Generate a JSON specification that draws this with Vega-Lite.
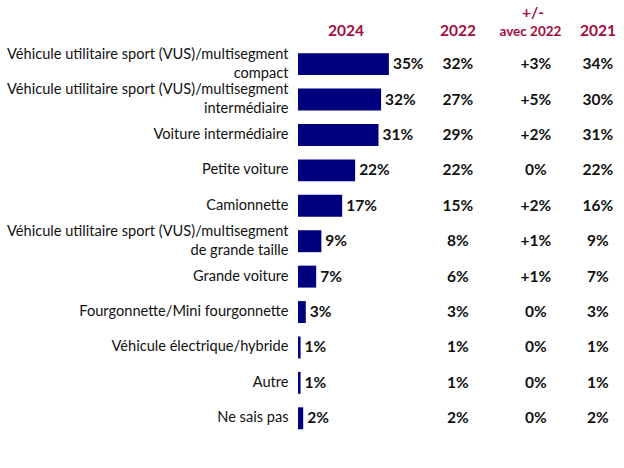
{
  "$schema": "https://vega.github.io/schema/vega-lite/v6.json",
  "width": 624,
  "height": 468,
  "autosize": {"type": "fit", "contains": "padding"},
  "padding": {"top": 7, "bottom": 32, "left": 5, "right": 4},
  "background": "white",
  "config": {"view": {"stroke": null}, "font": "Lato"},
  "data": {
    "values": [
      {"cat": "Véhicule utilitaire sport (VUS)/multisegment|compact", "v2024": 35, "v2022": 32, "diff": 3, "v2021": 34},
      {"cat": "Véhicule utilitaire sport (VUS)/multisegment|intermédiaire", "v2024": 32, "v2022": 27, "diff": 5, "v2021": 30},
      {"cat": "Voiture intermédiaire", "v2024": 31, "v2022": 29, "diff": 2, "v2021": 31},
      {"cat": "Petite voiture", "v2024": 22, "v2022": 22, "diff": 0, "v2021": 22},
      {"cat": "Camionnette", "v2024": 17, "v2022": 15, "diff": 2, "v2021": 16},
      {"cat": "Véhicule utilitaire sport (VUS)/multisegment|de grande taille", "v2024": 9, "v2022": 8, "diff": 1, "v2021": 9},
      {"cat": "Grande voiture", "v2024": 7, "v2022": 6, "diff": 1, "v2021": 7},
      {"cat": "Fourgonnette/Mini fourgonnette", "v2024": 3, "v2022": 3, "diff": 0, "v2021": 3},
      {"cat": "Véhicule électrique/hybride", "v2024": 1, "v2022": 1, "diff": 0, "v2021": 1},
      {"cat": "Autre", "v2024": 1, "v2022": 1, "diff": 0, "v2021": 1},
      {"cat": "Ne sais pas", "v2024": 2, "v2022": 2, "diff": 0, "v2021": 2}
    ]
  },
  "transform": [
    {"calculate": "datum.v2024 + '%'", "as": "l2024"},
    {"calculate": "datum.v2022 + '%'", "as": "l2022"},
    {"calculate": "datum.v2021 + '%'", "as": "l2021"},
    {"calculate": "(datum.diff > 0 ? '+' : '') + datum.diff + '%'", "as": "ldiff"}
  ],
  "encoding": {
    "y": {
      "field": "cat",
      "type": "nominal",
      "sort": null,
      "scale": {
        "domain": [
          "hdr",
          "Véhicule utilitaire sport (VUS)/multisegment|compact",
          "Véhicule utilitaire sport (VUS)/multisegment|intermédiaire",
          "Voiture intermédiaire",
          "Petite voiture",
          "Camionnette",
          "Véhicule utilitaire sport (VUS)/multisegment|de grande taille",
          "Grande voiture",
          "Fourgonnette/Mini fourgonnette",
          "Véhicule électrique/hybride",
          "Autre",
          "Ne sais pas"
        ],
        "paddingInner": 0.38,
        "paddingOuter": 0.19
      },
      "axis": {
        "title": null,
        "ticks": false,
        "domain": false,
        "labelPadding": 10,
        "labelFontSize": 14.6,
        "labelFont": "Lato",
        "labelColor": "#111111",
        "labelLimit": 400,
        "minExtent": 293,
        "maxExtent": 293,
        "labelLineHeight": 19,
        "labelOffset": {"condition": {"test": "indexof(datum.value, '|') >= 0", "value": -9.5}, "value": 0},
        "labelExpr": "datum.value == 'hdr' ? '' : split(datum.value, '|')"
      }
    }
  },
  "layer": [
    {
      "mark": {"type": "bar", "color": "#00007F"},
      "encoding": {
        "x": {"field": "v2024", "type": "quantitative", "scale": {"domain": [0, 124], "nice": false}, "axis": null}
      }
    },
    {
      "mark": {"type": "text", "align": "left", "baseline": "middle", "dx": 4, "fontWeight": "bold", "fontSize": 15.5, "color": "#111111"},
      "encoding": {
        "x": {"field": "v2024", "type": "quantitative"},
        "text": {"field": "l2024"}
      }
    },
    {
      "mark": {"type": "text", "align": "center", "baseline": "middle", "fontWeight": "bold", "fontSize": 15.5, "color": "#111111"},
      "encoding": {
        "x": {"datum": 61.6, "type": "quantitative"},
        "text": {"field": "l2022"}
      }
    },
    {
      "mark": {"type": "text", "align": "center", "baseline": "middle", "fontWeight": "bold", "fontSize": 15.5, "color": "#111111"},
      "encoding": {
        "x": {"datum": 91.6, "type": "quantitative"},
        "text": {"field": "ldiff"}
      }
    },
    {
      "mark": {"type": "text", "align": "center", "baseline": "middle", "fontWeight": "bold", "fontSize": 15.5, "color": "#111111"},
      "encoding": {
        "x": {"datum": 115.5, "type": "quantitative"},
        "text": {"field": "l2021"}
      }
    },
    {
      "data": {"values": [{"cat": "hdr", "t": "2024"}]},
      "mark": {"type": "text", "align": "center", "baseline": "middle", "dy": 2, "fontWeight": "bold", "fontSize": 15.5, "color": "#A50D3C"},
      "encoding": {"x": {"datum": 18.5, "type": "quantitative"}, "text": {"field": "t"}}
    },
    {
      "data": {"values": [{"cat": "hdr", "t": "2022"}]},
      "mark": {"type": "text", "align": "center", "baseline": "middle", "dy": 2, "fontWeight": "bold", "fontSize": 15.5, "color": "#A50D3C"},
      "encoding": {"x": {"datum": 61.6, "type": "quantitative"}, "text": {"field": "t"}}
    },
    {
      "data": {"values": [{"cat": "hdr", "t": "avec 2022"}]},
      "mark": {"type": "text", "align": "center", "baseline": "middle", "dy": 3, "fontWeight": "bold", "fontSize": 13.5, "color": "#A50D3C"},
      "encoding": {"x": {"datum": 89.5, "type": "quantitative"}, "text": {"field": "t"}}
    },
    {
      "data": {"values": [{"cat": "hdr", "t": "+/-"}]},
      "mark": {"type": "text", "align": "center", "baseline": "middle", "dy": -16, "fontWeight": "bold", "fontSize": 15.5, "color": "#A50D3C"},
      "encoding": {"x": {"datum": 90.5, "type": "quantitative"}, "text": {"field": "t"}}
    },
    {
      "data": {"values": [{"cat": "hdr", "t": "2021"}]},
      "mark": {"type": "text", "align": "center", "baseline": "middle", "dy": 2, "fontWeight": "bold", "fontSize": 15.5, "color": "#A50D3C"},
      "encoding": {"x": {"datum": 115.5, "type": "quantitative"}, "text": {"field": "t"}}
    }
  ]
}
